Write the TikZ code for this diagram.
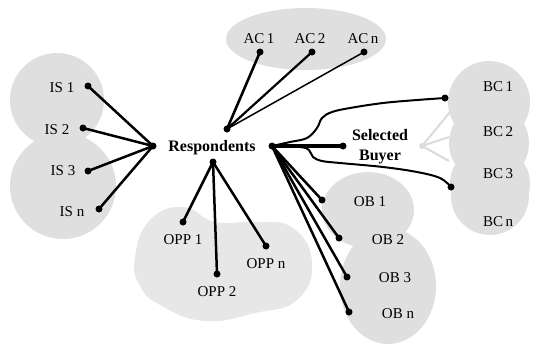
\documentclass[tikz,border=0pt]{standalone}
\usepackage{fontspec}
\setmainfont{Liberation Serif}
\definecolor{blob}{gray}{0.875}
\definecolor{blobopp}{gray}{0.905}
\definecolor{faint}{gray}{0.86}
\begin{document}
\begin{tikzpicture}[x=1pt,y=-1pt,
  dot/.style={circle,fill=black,inner sep=0pt,minimum size=7pt},
  faintdot/.style={circle,fill=faint,inner sep=0pt,minimum size=6pt},
  lbl/.style={font=\fontsize{15}{17}\selectfont,inner sep=0pt},
  hubtext/.style={font=\fontsize{16}{20}\selectfont\bfseries,inner sep=0pt,align=center},
  link/.style={line width=2.5pt},
  curvelink/.style={line width=2pt,line cap=round},
  faintlink/.style={faint,line width=2pt}]
\useasboundingbox (0,0) rectangle (534,346);

% ---- grey clusters ----
\fill[blob] (57,100) circle (47);
\fill[blob] (63,186) circle (53);
\fill[blob] (306,39) ellipse (80 and 31);
\fill[blob] (489,102) circle (41);
\fill[blob] (489,143) circle (40);
\fill[blob] (490,184) circle (40);
\fill[blob] (490,196) circle (39);
\fill[blob] (368,210) ellipse (46 and 38);
\fill[blob] (388,286) ellipse (48 and 58);
\fill[blobopp] plot[smooth cycle,tension=0.8] coordinates {
  (135,257) (150,220) (183,207) (215,222) (255,222) (293,228)
  (312,263) (297,300) (255,313) (205,321) (162,306) (140,286)};

% ---- hub ----
\node[hubtext] (resp) at (212,148) {Respondents};
\node[dot] (hl) at (153,146) {};
\node[dot] (hr) at (272,146) {};
\node[dot] (ht) at (227,129) {};
\node[dot] (hb) at (213,162) {};

% ---- IS ----
\node[dot] (is1) at (88,86) {};
\node[dot] (is2) at (83,128) {};
\node[dot] (is3) at (88,171) {};
\node[dot] (isn) at (99,209) {};
\node[lbl] (lis1) at (62,88) {IS 1};
\node[lbl] (lis2) at (57,130) {IS 2};
\node[lbl] (lis3) at (63,171) {IS 3};
\node[lbl] (lisn) at (72,212) {IS n};
\foreach \t in {is1,is2,is3,isn} \draw[link] (hl.center) -- (\t.center);

% ---- AC ----
\node[dot] (ac1) at (260,52) {};
\node[dot] (ac2) at (312,52) {};
\node[dot] (acn) at (364,52) {};
\node[lbl] (lac1) at (259,39) {AC\,1};
\node[lbl] (lac2) at (310,39) {AC\,2};
\node[lbl] (lacn) at (363,39) {AC\,n};
\draw[line width=2.6pt] (ht.center) -- (ac1.center);
\draw[line width=2.2pt] (ht.center) -- (ac2.center);
\draw[line width=1.5pt] (ht.center) -- (acn.center);

% ---- OPP ----
\node[dot] (opp1) at (183,222) {};
\node[dot] (opp2) at (217,274) {};
\node[dot] (oppn) at (266,246) {};
\node[lbl] (lopp1) at (183,240) {OPP 1};
\node[lbl] (lopp2) at (217,292) {OPP 2};
\node[lbl] (loppn) at (266,264) {OPP n};
\foreach \t in {opp1,opp2,oppn} \draw[link] (hb.center) -- (\t.center);

% ---- OB ----
\node[dot] (ob1) at (322,200) {};
\node[dot] (ob2) at (339,238) {};
\node[dot] (ob3) at (347,277) {};
\node[dot] (obn) at (349,312) {};
\node[lbl] (lob1) at (370,202) {OB 1};
\node[lbl] (lob2) at (388,240) {OB 2};
\node[lbl] (lob3) at (395,278) {OB 3};
\node[lbl] (lobn) at (398,314) {OB n};
\foreach \t in {ob1,ob2,ob3,obn} \draw[link] (hr.center) -- (\t.center);

% ---- selected buyer ----
\node[dot] (sel) at (343,146) {};
\node[hubtext] (lsel) at (380,147) {Selected\\Buyer};
\draw[line width=4.5pt] (hr.center) -- (sel.center);

% ---- BC ----
\node[faintdot] (bcx) at (422,146) {};
\coordinate (bce1) at (450,112);
\coordinate (bce2) at (449,137);
\coordinate (bce3) at (449,161);
\foreach \t in {bce1,bce2,bce3} \draw[faintlink] (bcx.center) -- (\t);
\node[dot] (bc1) at (445,98) {};
\node[dot] (bc3) at (451,187) {};
\node[lbl] (lbc1) at (498,87) {BC\,1};
\node[lbl] (lbc2) at (498,132) {BC\,2};
\node[lbl] (lbc3) at (498,174) {BC\,3};
\node[lbl] (lbcn) at (498,222) {BC\,n};
\draw[curvelink] plot[smooth,tension=0.6] coordinates {
  (hr.center) (290,142) (307,138) (317,128) (322,118) (332,112)
  (350,108) (383,103) (417,100) (bc1.center)};
\draw[curvelink] plot[smooth,tension=0.6] coordinates {
  (hr.center) (300,147) (309,150) (313,157) (322,161) (340,163)
  (383,167) (417,172) (440,178) (bc3.center)};
\end{tikzpicture}
\end{document}
